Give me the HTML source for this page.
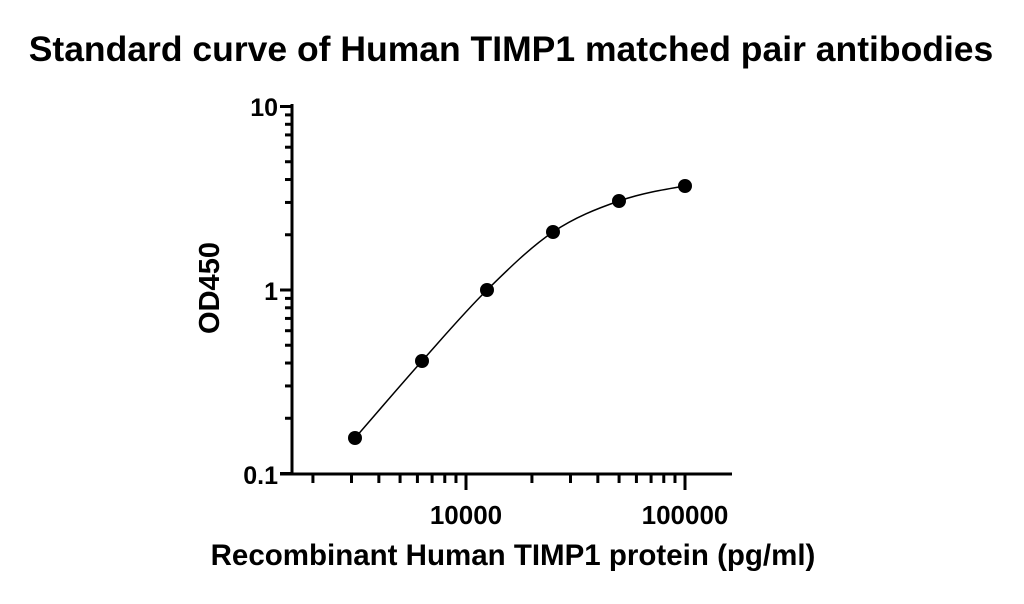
<!DOCTYPE html>
<html><head><style>
html,body{margin:0;padding:0;background:#fff;}
svg text{font-family:"Liberation Sans",Arial,sans-serif;font-weight:bold;fill:#000;}
</style></head><body>
<svg width="1024" height="599" viewBox="0 0 1024 599" xmlns="http://www.w3.org/2000/svg">
<text x="511" y="61" font-size="35.5" text-anchor="middle">Standard curve of Human TIMP1 matched pair antibodies</text>
<g stroke="#000" stroke-width="3" fill="none" id="ax">
<line x1="292" y1="104" x2="292" y2="475"/>
<line x1="280" y1="474" x2="732" y2="474"/>
</g>
<text x="278" y="116" font-size="25" text-anchor="end">10</text>
<text x="278" y="300" font-size="25" text-anchor="end">1</text>
<text x="278" y="484" font-size="25" text-anchor="end">0.1</text>
<text x="466" y="524" font-size="26" text-anchor="middle">10000</text>
<text x="685" y="524" font-size="26" text-anchor="middle">100000</text>
<text x="513" y="565" font-size="29.5" text-anchor="middle">Recombinant Human TIMP1 protein (pg/ml)</text>
<text transform="translate(219,288) rotate(-90)" font-size="29" text-anchor="middle">OD450</text>
<path id="curve" fill="none" stroke="#000" stroke-width="1.5"/>
<g id="pts"></g>
</svg>
<script>
var ns="http://www.w3.org/2000/svg",ax=document.getElementById('ax');
function ln(a,b,c,d){var l=document.createElementNS(ns,'line');l.setAttribute('x1',a);l.setAttribute('y1',b);l.setAttribute('x2',c);l.setAttribute('y2',d);ax.appendChild(l);}
function Y(v){return 290-183.5*Math.log10(v);}
function X(v){return 466+219*Math.log10(v/10000);}
[0.1,1,10].forEach(function(v){ln(280,Y(v),292,Y(v));});
for(var d=0.1;d<5;d*=10)for(var k=2;k<10;k++)ln(285,Y(d*k),292,Y(d*k));
[10000,100000].forEach(function(v){ln(X(v),474,X(v),490);});
for(var d=1000;d<20000;d*=10)for(var k=2;k<10;k++)ln(X(d*k),474,X(d*k),483);
var P=[[355,438],[422,361],[487,290],[553,232],[619,201],[685,186]];
var g=document.getElementById('pts');
P.forEach(function(p){var c=document.createElementNS(ns,'circle');c.setAttribute('cx',p[0]);c.setAttribute('cy',p[1]);c.setAttribute('r',7);g.appendChild(c);});
var e=[[2*P[0][0]-P[1][0],2*P[0][1]-P[1][1]]].concat(P,[[2*P[5][0]-P[4][0],2*P[5][1]-P[4][1]+8]]);
var s="M"+P[0][0]+","+P[0][1];
for(var i=1;i<e.length-2;i++){var p0=e[i-1],p1=e[i],p2=e[i+1],p3=e[i+2];
s+=" C"+(p1[0]+(p2[0]-p0[0])/6)+","+(p1[1]+(p2[1]-p0[1])/6)+" "+(p2[0]-(p3[0]-p1[0])/6)+","+(p2[1]-(p3[1]-p1[1])/6)+" "+p2[0]+","+p2[1];}
document.getElementById('curve').setAttribute('d',s);
</script>
</body></html>
